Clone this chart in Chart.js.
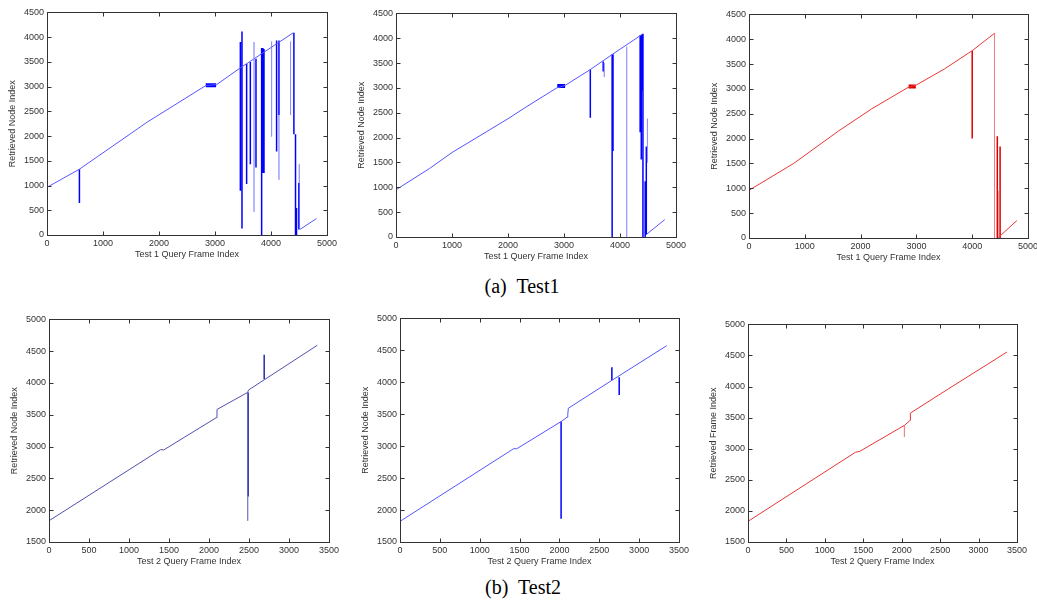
<!DOCTYPE html>
<html>
<head>
<meta charset="utf-8">
<script src="https://cdn.jsdelivr.net/npm/chart.js@4.4.1/dist/chart.umd.min.js"></script>
<style>
  html, body { margin: 0; padding: 0; background: #fff; }
  body { width: 1037px; height: 604px; position: relative; overflow: hidden; }
  .panel { position: absolute; }
  .caption {
    position: absolute;
    transform: translate(-50%, -50%);
    font-family: "Liberation Serif", "Times New Roman", serif;
    font-size: 20px;
    white-space: pre;
    color: #000;
  }
</style>
</head>
<body>
<div class="panel" id="p1"><canvas id="c1"></canvas></div>
<div class="panel" id="p2"><canvas id="c2"></canvas></div>
<div class="panel" id="p3"><canvas id="c3"></canvas></div>
<div class="panel" id="p4"><canvas id="c4"></canvas></div>
<div class="panel" id="p5"><canvas id="c5"></canvas></div>
<div class="panel" id="p6"><canvas id="c6"></canvas></div>
<div class="caption" style="left:522px; top:286px;">(a)  Test1</div>
<div class="caption" style="left:523px; top:587px;">(b)  Test2</div>

<script>
// tick labels
const test1XTicks = [0, 1000, 2000, 3000, 4000, 5000];
const test1YTicks = [0, 500, 1000, 1500, 2000, 2500, 3000, 3500, 4000, 4500];
const test2XTicks = [0, 500, 1000, 1500, 2000, 2500, 3000, 3500];
const test2YTicks = [1500, 2000, 2500, 3000, 3500, 4000, 4500, 5000];

// Test 1, left: [frame, node]
const t1aLine = [[0, 963], [579, 1331], [1800, 2290], [2835, 3020], [3030, 3041], [3450, 3377],
  [4397, 4087]];
const t1aTail = [[4516, 111], [4812, 332]];
const t1aBlock = [[2835, 3025], [3020, 3025]];
// spikes: [frame, from, to]
const t1aSpikes = [[0, 963, 648], [579, 1331, 648], [3453, 3900, 895], [3482, 4113, 131],
  [3565, 3463, 1030], [3631, 3497, 1432], [3732, 3564, 1366], [3833, 3779, 0],
  [3855, 3779, 1251], [3875, 3760, 1251], [4100, 3932, 1687], [4142, 3932, 2424],
  [4409, 4087, 2035], [4438, 2035, 0], [4456, 547, 0], [4498, 1050, 111]];
const t1aFaint = [[3697, 3900, 467], [4011, 3913, 1989], [4142, 2424, 1116],
  [4349, 3913, 2424], [4505, 1432, 1050]];

// Test 1, middle
const t1bLine = [[0, 950], [600, 1380], [1000, 1700], [2000, 2380], [2300, 2600], [2870, 3000],
  [3020, 3050], [3470, 3370], [3870, 3680], [4400, 4080]];
const t1bTail = [[4470, 50], [4800, 350]];
const t1bBlock = [[2880, 3040], [3020, 3040]];
const t1bSpikes = [[0, 950, 720], [3470, 3370, 2400], [3700, 3530, 3330], [3860, 3680, 0],
  [3875, 3680, 1730], [4360, 4060, 2110], [4380, 4070, 1560], [4400, 4080, 2950],
  [4410, 4090, 0], [4450, 1120, 0], [4470, 1820, 50]];
const t1bFaint = [[3720, 3500, 3220], [4120, 3830, 0], [4490, 2380, 1500]];

// Test 1, right
const t1cLine = [[0, 960], [800, 1500], [1600, 2150], [2200, 2600], [2850, 3030], [3000, 3080],
  [3500, 3400], [4000, 3770], [4400, 4120]];
const t1cTail = [[4460, 0], [4800, 350]];
const t1cBlock = [[2860, 3050], [2990, 3050]];
const t1cSpikes = [[0, 970, 700], [4000, 3770, 2000], [4450, 2050, 0], [4500, 1840, 0]];
const t1cFaint = [[4400, 4120, 0], [4480, 950, 0]];

// Test 2, left
const t2aLine = [[0, 1834], [1395, 2952], [1435, 2948], [2090, 3454], [2100, 3584], [2482, 3851],
  [2495, 3890], [2690, 4050], [3354, 4593]];
const t2aSpikes = [[2490, 3851, 2216], [2690, 4060, 4446]];
const t2aFaint = [[2484, 3851, 1834]];

// Test 2, middle
const t2bLine = [[0, 1823], [1425, 2960], [1465, 2960], [2021, 3385], [2096, 3453], [2105, 3500],
  [2112, 3594], [2658, 4030], [3346, 4573]];
const t2bSpikes = [[2021, 3385, 1865], [2658, 4030, 4234], [2750, 4078, 3802]];

// Test 2, right
const t2cLine = [[0, 1832], [1400, 2945], [1450, 2955], [2035, 3376], [2110, 3456], [2113, 3574],
  [2611, 3966], [3369, 4555]];
const t2cFaint = [[2035, 3376, 3188]];

const toPts = (arr) => arr.map(([x, y]) => ({ x, y }));
const spikePts = (arr) =>
  arr.flatMap(([x, a, b]) => [{ x, y: a }, { x, y: b }, { x, y: null }]);

const BLUE = { line: "rgb(85,85,255)", strong: "#0000ff", faint: "rgba(120,120,255,0.45)" };
const NAVY = { line: "rgb(80,80,178)", strong: "#2a2aa6", faint: "rgba(95,95,190,0.5)" };
const RED = { line: "rgb(232,55,55)", strong: "#dd0000", faint: "rgba(235,90,90,0.4)" };

const series = (c, line, tail, block, spikes, faint) => {
  const out = [];
  if (faint) out.push({ data: spikePts(faint), borderColor: c.faint, borderWidth: 1 });
  out.push({ data: toPts(line), borderColor: c.line, borderWidth: 1 });
  if (tail) out.push({ data: toPts(tail), borderColor: c.line, borderWidth: 1 });
  if (block) out.push({ data: toPts(block), borderColor: c.strong, borderWidth: 4, borderCapStyle: "butt" });
  if (spikes) out.push({ data: spikePts(spikes), borderColor: c.strong, borderWidth: 1.5 });
  return out;
};

const panels = [
  { id: 1, left: 47, top: 12, w: 281, h: 223, xt: test1XTicks, yt: test1YTicks,
    xTitle: "Test 1 Query Frame Index", yTitle: "Retrieved Node Index",
    datasets: series(BLUE, t1aLine, t1aTail, t1aBlock, t1aSpikes, t1aFaint) },
  { id: 2, left: 396, top: 13, w: 281, h: 224, xt: test1XTicks, yt: test1YTicks,
    xTitle: "Test 1 Query Frame Index", yTitle: "Retrieved Node Index",
    datasets: series(BLUE, t1bLine, t1bTail, t1bBlock, t1bSpikes, t1bFaint) },
  { id: 3, left: 749, top: 14, w: 280, h: 224, xt: test1XTicks, yt: test1YTicks,
    xTitle: "Test 1 Query Frame Index", yTitle: "Retrieved Node Index",
    datasets: series(RED, t1cLine, t1cTail, t1cBlock, t1cSpikes, t1cFaint) },
  { id: 4, left: 49, top: 319, w: 281, h: 223, xt: test2XTicks, yt: test2YTicks,
    xTitle: "Test 2 Query Frame Index", yTitle: "Retrieved Node Index",
    datasets: series(NAVY, t2aLine, null, null, t2aSpikes, t2aFaint) },
  { id: 5, left: 400, top: 318, w: 280, h: 224, xt: test2XTicks, yt: test2YTicks,
    xTitle: "Test 2 Query Frame Index", yTitle: "Retrieved Node Index",
    datasets: series(BLUE, t2bLine, null, null, t2bSpikes, null) },
  { id: 6, left: 748, top: 324, w: 270, h: 218, xt: test2XTicks, yt: test2YTicks,
    xTitle: "Test 2 Query Frame Index", yTitle: "Retrieved Frame Index",
    datasets: series(RED, t2cLine, null, null, null, t2cFaint) }
];

// MATLAB-like box with inward ticks
const boxTicks = {
  id: "boxTicks",
  afterDatasetsDraw(chart) {
    const { ctx, chartArea: a, scales: { x, y } } = chart;
    const L = Math.round(a.left) + 0.5, R = Math.round(a.right) + 0.5;
    const T = Math.round(a.top) + 0.5, B = Math.round(a.bottom) + 0.5;
    ctx.save();
    ctx.strokeStyle = "#333";
    ctx.lineWidth = 1;
    ctx.beginPath();
    x.ticks.forEach((t) => {
      const px = Math.round(x.getPixelForValue(t.value)) + 0.5;
      ctx.moveTo(px, B); ctx.lineTo(px, B - 4);
      ctx.moveTo(px, T); ctx.lineTo(px, T + 4);
    });
    y.ticks.forEach((t) => {
      const py = Math.round(y.getPixelForValue(t.value)) + 0.5;
      ctx.moveTo(L, py); ctx.lineTo(L + 4, py);
      ctx.moveTo(R, py); ctx.lineTo(R - 4, py);
    });
    ctx.stroke();
    ctx.strokeRect(L, T, R - L, B - T);
    ctx.restore();
  }
};

const font = { family: "'Liberation Sans', Arial, sans-serif", size: 9 };
const textColor = "#333";
const Y_W = 45, X_H = 30, PAD_T = 8, PAD_R = 12;

panels.forEach((p) => {
  const box = document.getElementById(`p${p.id}`);
  const canvas = document.getElementById(`c${p.id}`);
  box.style.left = `${p.left - Y_W}px`;
  box.style.top = `${p.top - PAD_T}px`;
  canvas.width = p.w + Y_W + PAD_R;
  canvas.height = p.h + PAD_T + X_H;

  new Chart(canvas, {
    type: "line",
    data: {
      datasets: p.datasets.map((d) => ({
        pointRadius: 0,
        fill: false,
        tension: 0,
        spanGaps: false,
        ...d
      }))
    },
    options: {
      responsive: false,
      animation: false,
      layout: { padding: { top: PAD_T, right: PAD_R, left: 0, bottom: 0 } },
      plugins: { legend: { display: false }, tooltip: { enabled: false } },
      scales: {
        x: {
          type: "linear",
          min: p.xt[0],
          max: p.xt[p.xt.length - 1],
          afterBuildTicks: (s) => { s.ticks = p.xt.map((v) => ({ value: v })); },
          afterFit: (s) => { s.height = X_H; },
          grid: { display: false, drawTicks: false },
          border: { display: false },
          ticks: { padding: 3, font, color: textColor, maxRotation: 0, autoSkip: false,
            callback: (v) => String(v) },
          title: { display: true, text: p.xTitle, font, color: textColor, padding: { top: 0, bottom: 5 } }
        },
        y: {
          type: "linear",
          min: p.yt[0],
          max: p.yt[p.yt.length - 1],
          afterBuildTicks: (s) => { s.ticks = p.yt.map((v) => ({ value: v })); },
          afterFit: (s) => { s.width = Y_W; },
          grid: { display: false, drawTicks: false },
          border: { display: false },
          ticks: { padding: 3, font, color: textColor, autoSkip: false,
            callback: (v) => String(v) },
          title: { display: true, text: p.yTitle, font, color: textColor, padding: { top: 5, bottom: 0 } }
        }
      }
    },
    plugins: [boxTicks]
  });
});
</script>
</body>
</html>
